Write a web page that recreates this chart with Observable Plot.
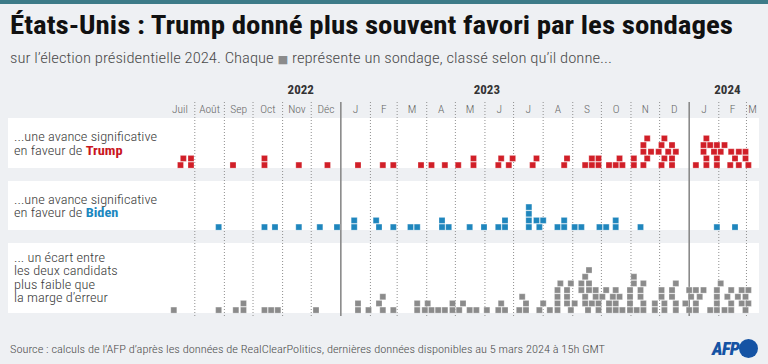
<!DOCTYPE html>
<html><head><meta charset="utf-8">
<script src="https://cdn.jsdelivr.net/npm/d3@7"></script>
<script src="https://cdn.jsdelivr.net/npm/@observablehq/plot@0.6"></script>
<style>
html,body{margin:0;padding:0;background:#eef0f3;}
#wrap{position:relative;width:768px;height:364px;overflow:hidden;background:#eef0f3;
  font-family:"Roboto Condensed","Liberation Sans Narrow","DejaVu Sans Condensed",Roboto,sans-serif;font-stretch:condensed;}
.abs{position:absolute;white-space:nowrap;transform-origin:0 0;}
.panel{position:absolute;left:8px;width:751px;background:#fff;}
.lbl{position:absolute;left:14px;font-size:13px;line-height:13.5px;color:#3a3a3a;font-weight:300;white-space:nowrap;transform-origin:0 0;}
svg{position:absolute;left:0;}
</style></head><body><div id="wrap"></div>
<script>
// ---------- data ----------
const monthStarts = ["2022-07-01","2022-08-01","2022-09-01","2022-10-01","2022-11-01","2022-12-01",
  "2023-01-01","2023-02-01","2023-03-01","2023-04-01","2023-05-01","2023-06-01","2023-07-01","2023-08-01",
  "2023-09-01","2023-10-01","2023-11-01","2023-12-01","2024-01-01","2024-02-01","2024-03-01"];
const monthNames = ["Juil","Août","Sep","Oct","Nov","Déc","J","F","M","A","M","J","J","A","S","O","N","D","J","F","M"];
const yearNames = ["2022","2023","2024"];
const yearLabelAt = ["2022-11-20","2023-06-03","2024-02-10"];
const yearStarts = ["2023-01-01","2024-01-01"];
const lastDay = "2024-03-14";

// one entry per poll (date), in the order the polls are piled up
const trumpPolls = [
 "2022-07-17","2022-07-28","2022-09-10","2022-10-13","2022-11-18","2022-12-18","2023-01-19","2023-02-14","2023-02-25",
 "2023-03-26","2023-04-06","2023-04-20","2023-05-04","2023-05-20","2023-06-15","2023-06-26","2023-07-21","2023-08-23",
 "2023-09-14","2023-09-21","2023-09-28","2023-10-09","2023-10-16","2023-10-23","2023-11-04","2023-11-14","2023-12-03",
 "2023-12-14","2024-01-19","2024-01-30","2024-02-13","2024-02-22","2024-03-03",
 "2022-07-20","2022-07-28","2022-10-13","2023-05-20","2023-06-18","2023-06-30","2023-07-25","2023-08-26","2023-09-21",
 "2023-09-28","2023-10-20","2023-11-04","2023-11-18","2023-12-06","2023-12-14","2024-01-19","2024-01-30","2024-02-18","2024-02-29",
 "2023-11-14","2023-11-22","2023-11-30","2023-12-10","2023-12-18","2024-01-08","2024-01-16","2024-01-27","2024-02-03","2024-02-22","2024-02-29",
 "2023-11-14","2023-12-03","2023-12-14","2024-01-16","2024-01-23","2024-01-30","2024-02-07","2024-02-14",
 "2023-11-18","2023-12-06","2024-01-19"];
const bidenPolls = [
 "2022-08-26","2022-10-13","2022-10-24","2022-11-18","2022-12-10","2022-12-28","2023-01-15","2023-01-15","2023-02-10","2023-02-07",
 "2023-02-25","2023-03-15","2023-03-22","2023-04-17","2023-04-17","2023-04-24","2023-05-16","2023-05-31","2023-06-15","2023-06-22",
 "2023-06-22","2023-07-17","2023-07-17","2023-07-17","2023-07-17","2023-07-28","2023-07-25","2023-08-01","2023-08-16","2023-08-23",
 "2023-08-23","2023-09-03","2023-09-10","2023-09-29","2023-10-06","2023-10-16","2023-10-16","2023-11-11","2024-01-30","2024-02-18"];
const tiePolls = [
 "2022-07-10","2022-08-26","2022-09-13","2022-09-21","2022-10-13","2022-10-20","2022-10-27","2022-12-06","2023-01-19","2023-01-30",
 "2023-02-14","2023-02-25","2023-03-22","2023-03-30","2023-04-06","2023-04-13","2023-04-20","2023-04-28","2023-05-05","2023-05-16",
 "2023-05-23","2023-06-03","2023-06-15","2023-06-22","2023-07-07","2023-07-14","2023-07-28","2023-08-08","2023-08-16","2023-08-30",
 "2023-09-17","2023-09-28","2023-10-09","2023-10-16","2023-10-23","2023-10-31","2023-11-07","2023-11-14","2023-11-26","2023-12-06",
 "2023-12-18","2024-01-01","2024-01-08","2024-01-23","2024-01-30","2024-02-07","2024-02-14","2024-02-29",
 "2022-09-21","2023-01-19","2023-02-10","2023-03-22","2023-04-02","2023-04-28","2023-05-09","2023-06-18","2023-07-14","2023-08-01",
 "2023-08-16","2023-08-26","2023-09-03","2023-09-14","2023-09-21","2023-09-28","2023-10-09","2023-10-16","2023-10-31","2023-11-14",
 "2023-11-26","2023-12-06","2023-12-18","2023-12-28","2024-01-08","2024-01-30","2024-02-14","2024-02-25","2024-03-03",
 "2023-02-14","2023-07-10","2023-08-16","2023-08-26","2023-09-14","2023-09-25","2023-10-02","2023-10-13","2023-10-20","2023-10-31",
 "2023-11-11","2023-12-03","2023-12-14","2024-01-03","2024-01-12","2024-01-30","2024-02-10","2024-02-21","2024-02-29",
 "2023-08-16","2023-08-26","2023-09-10","2023-09-18","2023-09-25","2023-10-06","2023-10-16","2023-10-31","2023-11-11","2023-12-03",
 "2023-12-14","2024-01-01","2024-01-08","2024-01-16","2024-01-30","2024-02-14","2024-02-25","2024-03-03",
 "2023-08-19","2023-08-30","2023-09-10","2023-09-18","2023-11-04","2023-11-14","2023-12-18","2024-02-03",
 "2023-09-14","2023-11-04",
 "2023-09-18"];

const rowTexts = [
 {lines:["...une avance significative","en faveur de <b style='color:#c9151e;font-weight:700'>Trump</b>"]},
 {lines:["...une avance significative","en faveur de <b style='color:#1b87bf;font-weight:700'>Biden</b>"]},
 {lines:["... un écart entre","les deux candidats","plus faible que","la marge d’erreur"]}
];
const colors = ["#d11f28","#1f86bd","#8b8b8b"];

// ---------- helpers ----------
const D = s => new Date(s + "T00:00:00Z");
const DAY = 864e5;
function pile(dates){ // each square drops onto the highest square it overlaps (one week wide)
  const placed = [];
  return dates.map(s => {
    const t = D(s).getTime();
    let k = 0;
    for (const p of placed) if (Math.abs(p.t - t) < 6.5*DAY) k = Math.max(k, p.level + 1);
    placed.push({t, level:k});
    return {date: D(s), level: k};
  });
}
const xScale = {type:"utc", domain:[D("2022-08-01"), D("2024-01-01")], range:[194.3, 688.7], axis:null};
const wrap = document.getElementById("wrap");
function add(html, cls, style){ const e=document.createElement("div"); e.className=cls; e.innerHTML=html; Object.assign(e.style, style); wrap.appendChild(e); return e; }
function fit(e, w){ const r=e.getBoundingClientRect().width; if(r>0) e.style.transform=`scaleX(${w/r})`; }

// stripe, title, subtitle
add("", "abs", {left:"0",top:"0",width:"768px",height:"4px",background:"#3d7b88"});
const title = add("États-Unis : Trump donné plus souvent favori par les sondages","abs",
  {left:"10px",top:"12px",fontSize:"26px",lineHeight:"26px",fontWeight:"700",color:"#111"});
fit(title, 723);
const sub = add("sur l’élection présidentielle 2024. Chaque <span style='color:#8b8b8b;font-size:11px'>■</span> représente un sondage, classé selon qu’il donne...","abs",
  {left:"10px",top:"51px",fontSize:"14.5px",lineHeight:"15px",fontWeight:"300",color:"#4a4a4a"});
fit(sub, 602);

// panels
const panels = [{top:118,h:50},{top:181,h:49},{top:243,h:70}];
panels.forEach(p => add("", "panel", {top:p.top+"px",height:p.h+"px"}));

// header / grid
const months = monthStarts.map((s,i) => ({start:D(s), mid:new Date((D(s).getTime() + D(monthStarts[i+1] ?? lastDay).getTime())/2), name:monthNames[i]}));
const gridTop = 80, gridH = 238;
const header = Plot.plot({
  width:768, height:gridH, marginTop:22, marginBottom:2, marginLeft:0, marginRight:0,
  x:xScale, y:{axis:null},
  style:{background:"transparent", overflow:"visible"},
  marks:[
    Plot.ruleX(months.slice(1).filter(m => !yearStarts.includes(m.start.toISOString().slice(0,10))), {x:"start", stroke:"#8f8f8f", strokeWidth:1, strokeDasharray:"1,2"}),
    Plot.ruleX(yearStarts.map(D), {stroke:"#8a8a8a", strokeWidth:1.6}),
    Plot.text(months, {x:"mid", text:"name", frameAnchor:"top", lineAnchor:"middle", dy:6.5, fontSize:11.5, fontWeight:300, fill:"#666",
      fontFamily:"'Roboto Condensed','Liberation Sans Narrow',Roboto,sans-serif"}),
    Plot.text(yearNames, {x:(d,i)=>D(yearLabelAt[i]), text:d=>d, frameAnchor:"top", lineAnchor:"middle", dy:-12.5, fontSize:13, fontWeight:700, fill:"#333",
      fontFamily:"'Roboto Condensed','Liberation Sans Narrow',Roboto,sans-serif"})
  ]
});
header.style.top = gridTop + "px";
wrap.appendChild(header);

// rows of squares
[trumpPolls, bidenPolls, tiePolls].forEach((polls, i) => {
  const p = panels[i];
  const base = p.h - 3.4;
  const svg = Plot.plot({
    width:768, height:p.h, margin:0,
    x:xScale, y:{domain:[0,1], range:[base, base-6.67], axis:null},
    style:{background:"transparent", overflow:"visible"},
    marks:[Plot.dot(pile(polls), {x:"date", y:"level", symbol:"square", r:3.4, fill:colors[i], stroke:"#fff", strokeOpacity:0.45, strokeWidth:0.6})]
  });
  svg.style.top = p.top + "px";
  wrap.appendChild(svg);
});

// row labels
const lblTops = [130.3, 192.8, 250.8];
rowTexts.forEach((r,i) => {
  const e = add(r.lines.join("<br>"), "lbl", {top:lblTops[i]+"px"});
  const first = document.createElement("span"); first.innerHTML = r.lines[0]; first.style.cssText="position:absolute;visibility:hidden;white-space:nowrap";
  e.appendChild(first);
  const target = i < 2 ? 143 : 91;
  const w = first.getBoundingClientRect().width; first.remove();
  e.style.transform = `scaleX(${target/w})`;
});

// footer
const foot = add("Source : calculs de l’AFP d’après les données de RealClearPolitics, dernières données disponibles au 5 mars 2024 à 15h GMT","abs",
  {left:"10px",top:"343px",fontSize:"11.5px",lineHeight:"12px",fontWeight:"300",color:"#4a4a4a"});
fit(foot, 595);
add("AFP","abs",{left:"712px",top:"339px",fontSize:"18px",lineHeight:"20px",fontWeight:"900",fontStyle:"italic",color:"#1553a4",fontFamily:"Roboto,sans-serif",letterSpacing:"-0.5px"});
add("","abs",{left:"739px",top:"339px",width:"19px",height:"19px",borderRadius:"50%",background:"#1553a4"});
</script></body></html>
